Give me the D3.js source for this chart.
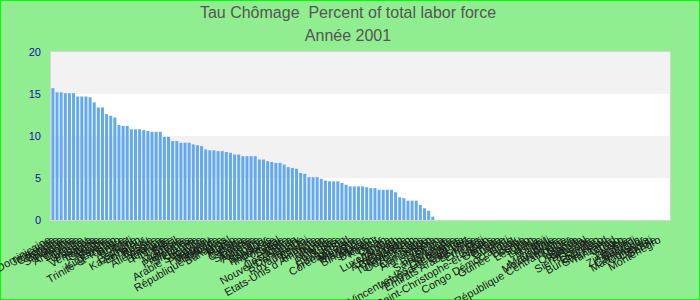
<!DOCTYPE html>
<html>
<head>
<meta charset="utf-8">
<script src="https://cdn.jsdelivr.net/npm/d3@7"></script>
<style>
  body { margin: 0; background: #90ee90; }
  svg { display: block; }
</style>
</head>
<body>
<div id="chart"></div>
<script>
// chart data
var titleLines = ["Tau Chômage  Percent of total labor force", "Année 2001"];

var countries = [
  "République Dominicaine","Jamaïque","Colombie","Bulgarie","Slovaquie","Pologne","Argentine","Lituanie","Croatie","Uruguay",
  "Panama","Venezuela","Lettonie","Géorgie","Albanie","Estonie","Kirghizistan","Trinité-et-Tobago","Grèce","Bolivie",
  "Chili","Espagne","Kazakhstan","Équateur","Pérou","Russie","Allemagne","France","Belgique","Finlande",
  "Italie","Brésil","Moldavie","Jordanie","Philippines","Sri Lanka","Ukraine","Arabie Saoudite","Égypte","Paraguay",
  "Mongolie","Barbade","République Tchèque","Bahamas","Israël","Maroc","Tunisie","Canada","Belize","Slovénie",
  "Arménie","Australie","Hongrie","Salvador","Honduras","Indonésie","Portugal","Suède","Malte","Costa Rica",
  "Nouvelle-Zélande","Danemark","Islande","Royaume-Uni","Chypre","Autriche","Etats-Unis d'Amérique","Japon","Irlande","Norvège",
  "Pays-Bas","Suisse","Hong Kong","Corée du Sud","Malaisie","Mexique","Thaïlande","Singapour","Macao","Bahreïn",
  "Koweït","Qatar","Oman","Cuba","Luxembourg","Viêt Nam","Azerbaïdjan","Biélorussie","Tadjikistan","Turkménistan",
  "Ouzbékistan","Laos","Cambodge","Afghanistan","Angola","Bénin","Botswana","Sainte-Lucie","Grenade","Dominique",
  "Saint-Vincent-et-les Grenadines","Antigua-et-Barbuda","Cap-Vert","Emirats Arabes Unis","Érythrée","Éthiopie","Fidji","Gabon","Saint-Christophe-et-Niévès","Gambie",
  "Ghana","Guinée","Haïti","Congo Démocratique","Irak","Guinée Bissau","Kenya","Lesotho","Liban","Libéria",
  "Libye","Malawi","Mali","Mauritanie","Mozambique","Namibie","République Centrafricaine","Niger","Nigéria","Ouganda",
  "Rwanda","Sénégal","Sierra Leone","Somalie","Soudan","Burkina Faso","Swaziland","Tanzanie","Tchad","Togo",
  "Yémen","Zambie","Zimbabwe","Burundi","Cameroun","Madagascar","Comores","Djibouti","Serbie","Montenegro"
];

// unemployment (%), same order as countries; the others have no value
var values = [
  15.7, 15.2, 15.2, 15.1, 15.1, 15.1, 14.7, 14.7, 14.7, 14.6,
  14.0, 13.4, 13.4, 12.6, 12.4, 12.2, 11.3, 11.2, 11.2, 10.8,
  10.8, 10.8, 10.7, 10.6, 10.5, 10.5, 10.5, 9.9, 9.9, 9.4,
  9.4, 9.2, 9.2, 9.2, 9.0, 8.9, 8.8, 8.4, 8.3, 8.3,
  8.2, 8.2, 8.1, 8.0, 7.8, 7.8, 7.6, 7.6, 7.6, 7.6,
  7.2, 7.2, 7.0, 6.9, 6.8, 6.8, 6.6, 6.3, 6.2, 6.1,
  5.6, 5.5, 5.1, 5.1, 5.1, 4.9, 4.7, 4.6, 4.6, 4.6,
  4.4, 4.2, 4.0, 4.0, 4.0, 4.0, 3.9, 3.8, 3.8, 3.6,
  3.6, 3.6, 3.6, 3.3, 2.7, 2.6, 2.3, 2.3, 2.3, 1.8,
  1.4, 1.1, 0.4
];

var yTicks = [0, 5, 10, 15, 20];

var W = 700, H = 300;
var margin = {top: 52, right: 30, bottom: 80, left: 51};

var svg = d3.select("#chart").append("svg")
  .attr("width", W)
  .attr("height", H);

// background + lime border
svg.append("rect")
  .attr("x", 0.5).attr("y", 0.5)
  .attr("width", W - 1).attr("height", H - 1)
  .attr("fill", "#90ee90")
  .attr("stroke", "#00ff00")
  .attr("stroke-width", 1);

var x = d3.scaleBand()
  .domain(countries)
  .range([margin.left, W - margin.right])
  .paddingInner(0.27)
  .paddingOuter(0.1);

// label positions are a little tighter than the bars
var xLab = d3.scalePoint()
  .domain(countries)
  .range([56, 666]);

var y = d3.scaleLinear()
  .domain([0, 20])
  .range([H - margin.bottom, margin.top]);

// alternating bands
var bands = d3.pairs(yTicks);
svg.selectAll("rect.band")
  .data(bands)
  .enter().append("rect")
    .attr("class", "band")
    .attr("x", margin.left)
    .attr("width", W - margin.right - margin.left)
    .attr("y", function(d) { return y(d[1]); })
    .attr("height", function(d) { return y(d[0]) - y(d[1]); })
    .attr("fill", function(d, i) { return i % 2 ? "#f2f2f2" : "#ffffff"; });

// plot frame
svg.append("rect")
  .attr("x", margin.left - 0.5)
  .attr("y", margin.top - 0.5)
  .attr("width", W - margin.right - margin.left + 1)
  .attr("height", H - margin.bottom - margin.top + 1)
  .attr("fill", "none")
  .attr("stroke", "#d4d4d4")
  .attr("stroke-width", 1);

// bars
var rows = countries.map(function(c, i) { return {name: c, value: values[i]}; })
  .filter(function(d) { return d.value != null; });

svg.selectAll("rect.bar")
  .data(rows)
  .enter().append("rect")
    .attr("class", "bar")
    .attr("x", function(d) { return x(d.name); })
    .attr("width", x.bandwidth())
    .attr("y", function(d) { return y(d.value); })
    .attr("height", function(d) { return y(0) - y(d.value); })
    .attr("fill", "#63a9f1");

// y axis (labels only)
var yAxis = svg.append("g")
  .attr("transform", "translate(" + (margin.left - 10) + ",0)")
  .call(d3.axisLeft(y).tickValues(yTicks).tickSize(0).tickPadding(0));
yAxis.select(".domain").remove();
yAxis.selectAll("text")
  .attr("fill", "#1010a8")
  .style("font-family", "Liberation Sans, Arial, sans-serif")
  .style("font-size", "11px");

// x axis labels, rotated
var xAxis = svg.append("g")
  .attr("transform", "translate(0," + (H - margin.bottom) + ")")
  .call(d3.axisBottom(xLab).tickSize(0).tickPadding(0));
xAxis.select(".domain").remove();
xAxis.selectAll("text")
  .attr("y", 0)
  .attr("dy", 0)
  .attr("text-anchor", "end")
  .attr("transform", "translate(-5,22) rotate(-30)")
  .attr("fill", "#1a1a1a")
  .style("font-family", "Liberation Sans, Arial, sans-serif")
  .style("font-size", "11px");

// titles
svg.selectAll("text.title")
  .data(titleLines)
  .enter().append("text")
    .attr("class", "title")
    .attr("x", 348)
    .attr("y", function(d, i) { return 18 + i * 23; })
    .attr("text-anchor", "middle")
    .attr("fill", "#555555")
    .style("white-space", "pre")
    .style("font-family", "Liberation Sans, Arial, sans-serif")
    .style("font-size", "16px")
    .text(function(d) { return d; });
</script>
</body>
</html>
